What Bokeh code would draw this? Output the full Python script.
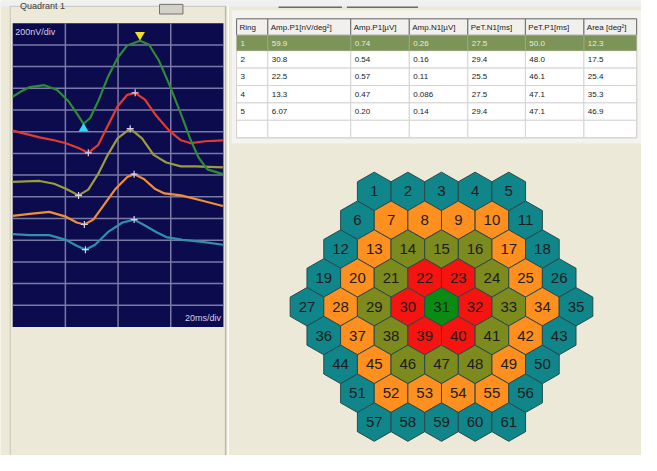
import numpy as np
from bokeh.plotting import figure
from bokeh.models import Range1d, ColumnDataSource
from bokeh.core.properties import value
from bokeh.util.hex import axial_to_cartesian
from bokeh.embed import file_html
from bokeh.resources import INLINE

# ---------------- data ----------------
# mfERG ring-average traces: time in ms, display level in nV (200 nV/div, 20 ms/div)
ring1_t = [0, 3.5, 6.5, 12.0, 16.9, 21.3, 25.0, 26.9, 29.4, 32.4, 36.1, 39.8, 43.5, 48.3, 51.7, 55.4, 59.4, 63.9, 67.6, 70.6, 73.9, 79.8]
ring1_nv = [2122, 2176, 2211, 2229, 2185, 2078, 1944, 1873, 1926, 2078, 2301, 2479, 2595, 2639, 2604, 2461, 2238, 1962, 1721, 1560, 1453, 1409]
ring2_t = [0, 10.2, 15.7, 20.2, 25.0, 28.7, 32.4, 36.1, 39.8, 43.5, 46.5, 50.2, 54.6, 59.4, 63.9, 67.6, 73.1, 79.8]
ring2_nv = [1810, 1748, 1721, 1694, 1650, 1605, 1676, 1855, 2033, 2140, 2158, 2095, 1944, 1810, 1721, 1694, 1712, 1721]
ring3_t = [0, 10.2, 15.7, 20.2, 25.0, 28.7, 32.4, 36.1, 39.8, 44.6, 49.1, 53.5, 58.3, 63.9, 69.4, 79.8]
ring3_nv = [1338, 1346, 1320, 1275, 1213, 1266, 1409, 1587, 1739, 1828, 1739, 1587, 1516, 1480, 1480, 1471]
ring4_t = [0, 6.5, 13.9, 20.2, 24.3, 27.2, 30.6, 34.3, 39.1, 43.5, 46.1, 49.8, 53.9, 57.6, 63.9, 71.3, 79.8]
ring4_nv = [1025, 1043, 1061, 1017, 963, 945, 990, 1115, 1275, 1382, 1409, 1364, 1275, 1231, 1213, 1168, 1115]
ring5_t = [0, 6.5, 13.9, 20.2, 24.3, 27.6, 31.3, 36.1, 41.7, 46.1, 50.2, 54.6, 58.3, 64.6, 72.0, 79.8]
ring5_nv = [856, 847, 847, 803, 749, 713, 758, 874, 963, 990, 936, 874, 829, 803, 785, 758]

# N1 / P1 cursor markers (rings 2-5 crosses; ring 1 triangles)
n1_t = [26.9, 28.7, 25.0, 27.2, 27.6]
n1_nv = [1828, 1605, 1213, 945, 713]
p1_t = [48.3, 46.5, 44.6, 46.1, 46.1]
p1_nv = [2693, 2158, 1828, 1409, 990]

# result table
table_headers = ["Ring", "Amp.P1[nV/deg\u00b2]", "Amp.P1[\u00b5V]", "Amp.N1[\u00b5V]",
                 "PeT.N1[ms]", "PeT.P1[ms]", "Area [deg\u00b2]"]
ring_ids = ["1", "2", "3", "4", "5"]
amp_p1_density = ["59.9", "30.8", "22.5", "13.3", "6.07"]
amp_p1_uv = ["0.74", "0.54", "0.57", "0.47", "0.20"]
amp_n1_uv = ["0.26", "0.16", "0.11", "0.086", "0.14"]
pet_n1 = ["27.5", "29.4", "25.5", "27.5", "29.4"]
pet_p1 = ["50.0", "48.0", "46.1", "47.1", "47.1"]
area_deg2 = ["12.3", "17.5", "25.4", "35.3", "46.9"]

# hexagon field: 61 elements in 9 rows
hex_rows = [5, 6, 7, 8, 9, 8, 7, 6, 5]
ring_colors = ["#0B8A14", "#F51410", "#7D8A1E", "#FF8F1E", "#10868A"]
trace_colors = ["#2E8A34", "#E43A30", "#9C9C3E", "#F0902E", "#3290AA"]

# ---------------- layout constants (screen px of the reference) ----------------
BG = "#ECE9D8"
W, H = 641, 455
X_LEFT, X_RIGHT, Y_TOP, Y_BOT = 0, 657, 0, 471
PANEL_L, PANEL_R, PANEL_T, PANEL_B = 12.5, 228.5, 23.5, 338
PX_MS = (PANEL_R - PANEL_L) / 80.0
NV_PX = 200.0 / ((PANEL_B - PANEL_T) / 14.0)
HEX_CX, HEX_CY, HEX_SIZE = 452, 317, 19.9
FONT = value("Liberation Sans")

p = figure(width=W, height=H, output_backend="svg", toolbar_location=None,
           x_range=Range1d(X_LEFT, X_RIGHT), y_range=Range1d(Y_BOT, Y_TOP),
           x_axis_location=None, y_axis_location=None, min_border=0,
           background_fill_color=BG, border_fill_color=BG, outline_line_color=None)
p.grid.visible = False
p.extra_x_ranges = {
    "ms": Range1d((X_LEFT - PANEL_L) / PX_MS, (X_RIGHT - PANEL_L) / PX_MS),
    "hex": Range1d(X_LEFT - HEX_CX, X_RIGHT - HEX_CX),
}
p.extra_y_ranges = {
    "nv": Range1d((PANEL_B - Y_BOT) * NV_PX, (PANEL_B - Y_TOP) * NV_PX),
    "hex": Range1d(HEX_CY - Y_BOT, HEX_CY - Y_TOP),
}

# ---------------- window chrome ----------------
p.quad(left=[0], right=[657], top=[0], bottom=[6], fill_color="#EEF0F3", line_color=None)
p.quad(left=[10], right=[231], top=[6], bottom=[475], fill_color=BG, line_color="#C8C5B8", line_width=1)
p.segment(x0=[233.5], y0=[6], x1=[233.5], y1=[475], line_color="#FFFFFF", line_width=1.5)
p.segment(x0=[230.5], y0=[6], x1=[230.5], y1=[475], line_color="#B8B5A8", line_width=1)
p.text(x=[20], y=[11], text=["Quadrant 1"], text_font=FONT, text_font_size="9px",
       text_color="#404040", text_baseline="bottom")
p.quad(left=[163], right=[187], top=[4], bottom=[14], fill_color="#D4D2C8", line_color="#707070")
p.segment(x0=[285, 355], x1=[350, 428], y0=[7, 7], y1=[7, 7], line_color="#6A6A6A", line_width=1.5)

# ---------------- trace panel ----------------
p.quad(left=[PANEL_L], right=[PANEL_R], top=[PANEL_T], bottom=[PANEL_B], fill_color="#0B0B4E", line_color=None)
grid_t = [20, 40, 60]
p.segment(x0=grid_t, x1=grid_t, y0=[0] * 3, y1=[2800] * 3, x_range_name="ms", y_range_name="nv",
          line_color="#7A7AA6", line_width=1.5)
grid_nv = [200 * k for k in range(1, 14)]
p.segment(x0=[0] * 13, x1=[80] * 13, y0=grid_nv, y1=grid_nv, x_range_name="ms", y_range_name="nv",
          line_color="#7A7AA6", line_width=1.5)

traces = [(ring1_t, ring1_nv), (ring2_t, ring2_nv), (ring3_t, ring3_nv), (ring4_t, ring4_nv), (ring5_t, ring5_nv)]
for i in reversed(range(5)):
    t, nv = traces[i]
    p.line(t, nv, x_range_name="ms", y_range_name="nv", line_color=trace_colors[i], line_width=2.2,
           line_join="round")

p.scatter(n1_t[1:] + p1_t[1:], n1_nv[1:] + p1_nv[1:], marker="cross", size=7, line_width=1.2,
          line_color="#D8D0E8", x_range_name="ms", y_range_name="nv")
p.scatter([n1_t[0]], [n1_nv[0]], marker="triangle", size=10, fill_color="#30D8F0", line_color=None,
          x_range_name="ms", y_range_name="nv")
p.scatter([p1_t[0]], [p1_nv[0]], marker="inverted_triangle", size=10, fill_color="#F0E020", line_color=None,
          x_range_name="ms", y_range_name="nv")

p.text(x=[15], y=[33], text=["200nV/div"], text_font=FONT, text_font_size="9px",
       text_color="#D0D0E8", text_baseline="middle")
p.text(x=[226], y=[329], text=["20ms/div"], text_font=FONT, text_font_size="9px",
       text_color="#D0D0E8", text_baseline="middle", text_align="right")

# ---------------- result table ----------------
col_edges = [242, 274, 359, 419, 479, 538, 598, 652]
row_edges = [19, 36, 52, 70, 88, 106, 124, 142]
p.quad(left=[237], right=[657], top=[10], bottom=[148], fill_color="#F4F3EE", line_color=None)
p.quad(left=[col_edges[0]], right=[col_edges[-1]], top=[row_edges[0]], bottom=[row_edges[-1]],
       fill_color="#FFFFFF", line_color="#A0A0A0")

# header
p.quad(left=col_edges[:-1], right=col_edges[1:], top=[row_edges[0]] * 7, bottom=[row_edges[1]] * 7,
       fill_color="#F1F0EC", line_color="#6E6E6E", line_width=1)
p.text(x=[c + 3 for c in col_edges[:-1]], y=[(row_edges[0] + row_edges[1]) / 2] * 7, text=table_headers,
       text_font=FONT, text_font_size="8px", text_color="#202020", text_baseline="middle")

# body cells
body_cols = [ring_ids, amp_p1_density, amp_p1_uv, amp_n1_uv, pet_n1, pet_p1, area_deg2]
cl, cr, ct, cb = [], [], [], []
for r in range(6):
    for c in range(7):
        cl.append(col_edges[c]); cr.append(col_edges[c + 1])
        ct.append(row_edges[r + 1]); cb.append(row_edges[r + 2])
p.quad(left=cl, right=cr, top=ct, bottom=cb, fill_color="#FFFFFF", line_color="#D4D4D4", line_width=1)
p.quad(left=[col_edges[0]], right=[col_edges[-1]], top=[row_edges[1]], bottom=[row_edges[2]],
       fill_color="#7C9458", line_color=None)
p.segment(x0=col_edges[1:-1], x1=col_edges[1:-1], y0=[row_edges[1]] * 6, y1=[row_edges[2]] * 6,
          line_color="#9AAE80", line_width=1)

tx, ty, tt, tc = [], [], [], []
for r in range(5):
    for c in range(7):
        tx.append(col_edges[c] + 4)
        ty.append((row_edges[r + 1] + row_edges[r + 2]) / 2)
        tt.append(body_cols[c][r])
        tc.append("#E6EED8" if r == 0 else "#202020")
p.text(x=tx, y=ty, text=tt, text_color=tc, text_font=FONT, text_font_size="8px",
       text_baseline="middle")

# ---------------- hexagon field ----------------
q, rr, fills, labels = [], [], [], []
n = 1
half = len(hex_rows) // 2
for i, count in enumerate(hex_rows):
    r_ax = i - half
    q_start = max(-half, -half - r_ax)
    for k in range(count):
        qq = q_start + k
        ring = max(abs(qq), abs(r_ax), abs(qq + r_ax))
        q.append(qq); rr.append(r_ax)
        fills.append(ring_colors[ring]); labels.append(str(n)); n += 1
q = np.array(q); rr = np.array(rr)
hx, hy = axial_to_cartesian(q, rr, HEX_SIZE, "pointytop")
hsrc = ColumnDataSource(dict(q=q, r=rr, fill=fills, x=hx, y=hy, label=labels))
p.hex_tile(q="q", r="r", size=HEX_SIZE, orientation="pointytop", source=hsrc, fill_color="fill",
           line_color="#264A4C", line_width=1, x_range_name="hex", y_range_name="hex")
p.text(x="x", y="y", text="label", source=hsrc, x_range_name="hex", y_range_name="hex",
       text_align="center", text_baseline="middle", text_font=FONT,
       text_font_size="15px", text_color="#1C1C1C")

open("out.html", "w").write(file_html(p, INLINE))
